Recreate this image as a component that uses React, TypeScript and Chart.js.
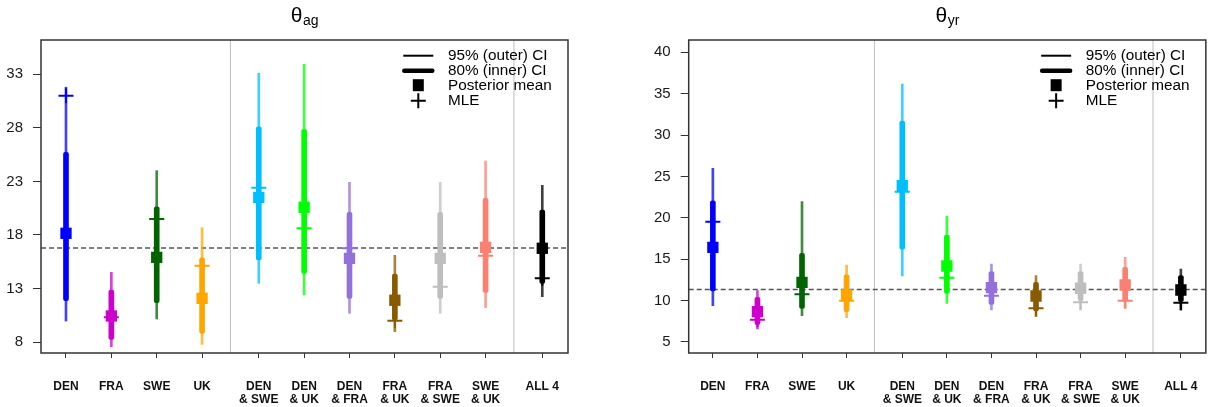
import React, { useEffect, useRef } from "react";
import { Chart, registerables } from "chart.js";

Chart.register(...registerables);

// ---------- data ----------
const categories: string[][] = [
  ["DEN"], ["FRA"], ["SWE"], ["UK"],
  ["DEN", "& SWE"], ["DEN", "& UK"], ["DEN", "& FRA"], ["FRA", "& UK"], ["FRA", "& SWE"], ["SWE", "& UK"],
  ["ALL 4"],
];
const positions = [1, 2, 3, 4, 5.25, 6.25, 7.25, 8.25, 9.25, 10.25, 11.5];
const separators = [4.625, 10.875];
const colors = ["#0000FF", "#CD00CD", "#006400", "#FFA500", "#00BFFF", "#00FF00", "#9370DB", "#8B5A00", "#BEBEBE", "#FA8072", "#000000"];

// theta_ag
const agOuterLo = [9.96, 7.56, 10.15, 7.78, 13.48, 12.39, 10.68, 8.96, 10.68, 11.2, 12.23];
const agOuterHi = [31.8, 14.5, 24.0, 18.67, 33.1, 33.93, 22.91, 16.09, 22.91, 24.9, 22.63];
const agInnerLo = [11.86, 8.25, 11.67, 8.81, 15.66, 14.41, 12.08, 10.05, 12.08, 12.64, 13.48];
const agInnerHi = [25.7, 12.85, 20.63, 15.87, 28.1, 27.86, 20.11, 14.35, 20.11, 21.42, 20.33];
const agMean = [18.15, 10.43, 15.9, 12.08, 21.5, 20.58, 15.81, 11.9, 15.81, 16.84, 16.75];
const agMle = [31.0, 10.3, 19.49, 15.12, 22.4, 18.62, 16.75, 9.99, 13.16, 16.06, 13.95];
const agRef = 16.77;
const agTicks = [8, 13, 18, 23, 28, 33];

// theta_yr
const yrOuterLo = [9.39, 6.57, 8.18, 7.94, 12.97, 9.67, 8.87, 8.06, 8.87, 9.07, 8.87];
const yrOuterHi = [25.98, 11.2, 21.95, 14.3, 36.17, 20.22, 14.42, 13.01, 14.42, 15.23, 13.82];
const yrInnerLo = [11.16, 7.09, 9.07, 8.66, 16.23, 10.88, 9.55, 8.75, 9.99, 9.87, 9.87];
const yrInnerHi = [22.07, 10.4, 15.72, 13.1, 31.7, 17.93, 13.5, 12.21, 13.5, 14.03, 13.01];
const yrMean = [16.44, 8.66, 12.21, 10.68, 23.89, 14.18, 11.56, 10.56, 11.49, 11.89, 11.28];
const yrMle = [19.53, 7.69, 10.76, 9.99, 23.16, 12.77, 10.6, 9.07, 9.8, 9.99, 9.75];
const yrRef = 11.33;
const yrTicks = [5, 10, 15, 20, 25, 30, 35, 40];

const legendLabels = ["95% (outer) CI", "80% (inner) CI", "Posterior mean", "MLE"];

const FONT = '"Liberation Sans", Arial, Helvetica, sans-serif';

function withAlpha(hex: string, a: number) {
  const n = parseInt(hex.slice(1), 16);
  return `rgba(${(n >> 16) & 255},${(n >> 8) & 255},${n & 255},${a})`;
}

interface PanelCfg {
  sub: string;
  outerLo: number[]; outerHi: number[];
  innerLo: number[]; innerHi: number[];
  mean: number[]; mle: number[];
  ref: number; ticks: number[];
  yMin: number; yMax: number;
  xMin: number; xMax: number;
  padLeft: number; padRight: number;
}

function Panel({ cfg, left }: { cfg: PanelCfg; left: number }) {
  const ref = useRef<HTMLCanvasElement | null>(null);
  useEffect(() => {
    const pts = (arr: number[]) => arr.map((v, i) => ({ x: positions[i], y: v }));
    const rng = (lo: number[], hi: number[]) => lo.map((v, i) => ({ x: positions[i], y: [v, hi[i]] }));

    const titlePlugin = {
      id: "thetaTitle",
      afterDraw(chart: any) {
        const { ctx, chartArea } = chart;
        ctx.save();
        ctx.fillStyle = "#000";
        ctx.textBaseline = "alphabetic";
        ctx.font = `21px ${FONT}`;
        const w1 = ctx.measureText("θ").width;
        ctx.font = `14px ${FONT}`;
        const w2 = ctx.measureText(cfg.sub).width;
        const cx = (chartArea.left + chartArea.right) / 2;
        const x0 = cx - (w1 + w2) / 2;
        ctx.font = `21px ${FONT}`;
        ctx.fillText("θ", x0, 21.5);
        ctx.font = `14px ${FONT}`;
        ctx.fillText(cfg.sub, x0 + w1 + 0.5, 25);
        ctx.restore();
      },
    };

    const framePlugin = {
      id: "frameLegend",
      afterDatasetsDraw(chart: any) {
        const { ctx, chartArea } = chart;
        const { left: l, top: t, right: r, bottom: b } = chartArea;
        ctx.save();
        ctx.strokeStyle = "#333";
        ctx.lineWidth = 1.5;
        ctx.strokeRect(l, t, r - l, b - t);

        // legend
        const x1 = r - 164.7, x2 = r - 134.7, cx = (x1 + x2) / 2, tx = r - 120;
        const ys = [t + 15.7, t + 30.7, t + 45.7, t + 60.7];
        ctx.strokeStyle = "#000";
        ctx.fillStyle = "#000";
        ctx.lineWidth = 2;
        ctx.lineCap = "butt";
        ctx.beginPath(); ctx.moveTo(x1, ys[0]); ctx.lineTo(x2, ys[0]); ctx.stroke();
        ctx.lineWidth = 4.5;
        ctx.lineCap = "round";
        ctx.beginPath(); ctx.moveTo(x1 + 1, ys[1]); ctx.lineTo(x2 - 1, ys[1]); ctx.stroke();
        ctx.fillRect(cx - 5.5, ys[2] - 6.5, 11, 12);
        ctx.lineWidth = 2;
        ctx.lineCap = "butt";
        ctx.beginPath();
        ctx.moveTo(cx - 7.5, ys[3]); ctx.lineTo(cx + 7.5, ys[3]);
        ctx.moveTo(cx, ys[3] - 7.5); ctx.lineTo(cx, ys[3] + 7.5);
        ctx.stroke();
        ctx.font = `15.3px ${FONT}`;
        ctx.textBaseline = "middle";
        ctx.textAlign = "left";
        legendLabels.forEach((s, i) => ctx.fillText(s, tx, ys[i]));
        ctx.restore();
      },
    };

    const datasets: any[] = [
      {
        type: "line", data: pts(cfg.mle), showLine: false, pointStyle: "cross",
        pointRadius: 7.5, pointHoverRadius: 7.5, pointBorderWidth: 2,
        pointBorderColor: colors, pointBackgroundColor: colors, order: 0,
      },
      {
        type: "line", data: pts(cfg.mean), showLine: false, pointStyle: "rect",
        pointRadius: 8, pointHoverRadius: 8, pointBorderWidth: 0,
        pointBorderColor: colors, pointBackgroundColor: colors, order: 1,
      },
      {
        type: "bar", data: rng(cfg.innerLo, cfg.innerHi), backgroundColor: colors,
        barThickness: 5, grouped: false, order: 2, borderSkipped: false, borderRadius: 2,
      },
      {
        type: "bar", data: rng(cfg.outerLo, cfg.outerHi), backgroundColor: colors.map((c) => withAlpha(c, 0.75)),
        barThickness: 2, grouped: false, order: 3,
      },
      {
        type: "line", data: [{ x: cfg.xMin, y: cfg.ref }, { x: cfg.xMax, y: cfg.ref }],
        borderColor: "#555", borderWidth: 1.5, borderDash: [5, 3], pointRadius: 0, order: 4,
      },
      ...separators.map((s) => ({
        type: "line", data: [{ x: s, y: cfg.yMin }, { x: s, y: cfg.yMax }],
        borderColor: "#bebebe", borderWidth: 1, pointRadius: 0, order: 5,
      })),
    ];

    const chart = new Chart(ref.current as HTMLCanvasElement, {
      type: "bar",
      data: { datasets },
      options: {
        animation: false,
        responsive: false,
        maintainAspectRatio: false,
        events: [],
        layout: { padding: { top: 40, left: cfg.padLeft, right: cfg.padRight, bottom: 0 } },
        plugins: { legend: { display: false }, tooltip: { enabled: false }, title: { display: false } },
        scales: {
          x: {
            type: "linear", min: cfg.xMin, max: cfg.xMax, offset: false,
            afterBuildTicks: (s: any) => { s.ticks = positions.map((v) => ({ value: v })); },
            afterFit: (s: any) => { s.height = 54; },
            ticks: {
              autoSkip: false, maxRotation: 0, minRotation: 0, padding: 22, color: "#111",
              font: { family: FONT, size: 12, weight: "bold", lineHeight: 1.1 },
              callback: (_v: any, i: number) => categories[i],
            },
            grid: { display: true, drawOnChartArea: false, drawTicks: true, tickLength: 5, color: "#333", offset: false },
            border: { display: false },
          },
          y: {
            type: "linear", min: cfg.yMin, max: cfg.yMax, beginAtZero: false,
            afterBuildTicks: (s: any) => { s.ticks = cfg.ticks.map((v) => ({ value: v })); },
            afterFit: (s: any) => { s.width = 41; },
            ticks: { padding: 10, color: "#1a1a1a", font: { family: FONT, size: 15 } },
            grid: { display: true, drawOnChartArea: false, drawTicks: true, tickLength: 8, color: "#333" },
            border: { display: false },
          },
        },
      } as any,
      plugins: [titlePlugin, framePlugin],
    } as any);
    return () => chart.destroy();
  }, []);
  return (
    <div style={{ position: "absolute", left, top: 0, width: 610, height: 407 }}>
      <canvas ref={ref} width={610} height={407} style={{ width: 610, height: 407, display: "block" }} />
    </div>
  );
}

const agCfg: PanelCfg = {
  sub: "ag", outerLo: agOuterLo, outerHi: agOuterHi, innerLo: agInnerLo, innerHi: agInnerHi,
  mean: agMean, mle: agMle, ref: agRef, ticks: agTicks, yMin: 6.973, yMax: 36.2,
  xMin: 0.449, xMax: 12.067, padLeft: 0, padRight: 42,
};
const yrCfg: PanelCfg = {
  sub: "yr", outerLo: yrOuterLo, outerHi: yrOuterHi, innerLo: yrInnerLo, innerHi: yrInnerHi,
  mean: yrMean, mle: yrMle, ref: yrRef, ticks: yrTicks, yMin: 3.671, yMax: 41.486,
  xMin: 0.458, xMax: 12.06, padLeft: 37.7, padRight: 4.3,
};

export default function App() {
  return (
    <div style={{ position: "absolute", left: 0, top: 0, width: 1220, height: 407, background: "#fff" }}>
      <Panel cfg={agCfg} left={0} />
      <Panel cfg={yrCfg} left={610} />
    </div>
  );
}
